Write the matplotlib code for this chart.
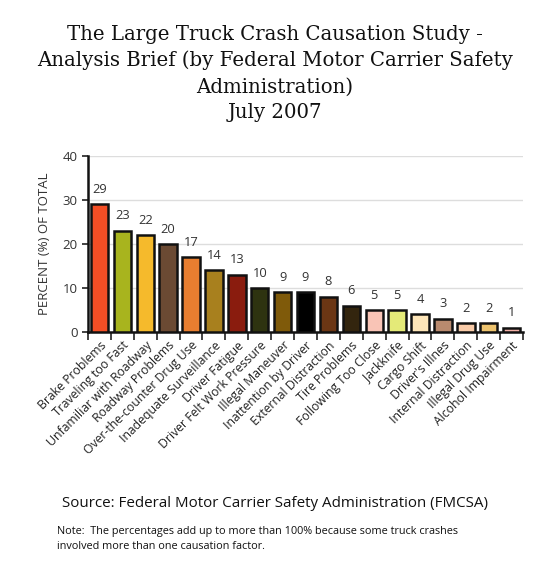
import numpy as np
import matplotlib.pyplot as plt
from matplotlib.ticker import FixedLocator

# ========= DATA =========
causes = [
    "Brake Problems", "Traveling too Fast", "Unfamiliar with Roadway",
    "Roadway Problems", "Over-the-counter Drug Use", "Inadequate Surveillance",
    "Driver Fatigue", "Driver Felt Work Pressure", "Illegal Maneuver",
    "Inattention by Driver", "External Distraction", "Tire Problems",
    "Following Too Close", "Jackknife", "Cargo Shift", "Driver's Illnes",
    "Internal Distraction", "Illegal Drug Use", "Alcohol Impairment",
]
percents = [29, 23, 22, 20, 17, 14, 13, 10, 9, 9, 8, 6, 5, 5, 4, 3, 2, 2, 1]
colors = [
    "#F44E25", "#A8B41E", "#F5BA2C", "#6B4A33", "#E87E30", "#A8801E",
    "#8A1C0E", "#2E3310", "#7F5A0A", "#000000", "#6B3614", "#33250E",
    "#F9C4B6", "#E4EA78", "#FDE5B8", "#B98A6E", "#F9CBA8", "#EDC36E",
    "#F2B0A6",
]

TITLE = ("The Large Truck Crash Causation Study -\n"
         "Analysis Brief (by Federal Motor Carrier Safety\n"
         "Administration)\nJuly 2007")

plt.rcParams['font.family'] = ['Open Sans', 'DejaVu Sans']

fig = plt.figure(figsize=(5.5, 5.86), dpi=100)
ax = fig.add_axes([0.16, 0.4334, 0.791, 0.3004])

x = np.arange(len(causes))
ax.bar(x, percents, width=0.76, color=colors, edgecolor="#111111", linewidth=1.8, zorder=3)

for xi, v in zip(x, percents):
    ax.annotate(str(v), (xi, v), xytext=(0, 6), textcoords="offset points",
                ha="center", va="bottom", fontsize=9.3, color="#333333")

ax.set_xlim(-0.5, len(causes) - 0.5)
ax.set_ylim(0, 40)
ax.set_yticks([0, 10, 20, 30, 40])
ax.yaxis.grid(True, color="#dddddd", linewidth=1, zorder=0)
ax.set_axisbelow(True)

ax.set_xticks(x)
ax.set_xticklabels(causes, rotation=45, ha="right", rotation_mode="anchor", fontsize=8.8, color="#222222")
ax.tick_params(axis="x", which="major", length=0, pad=5)
ax.xaxis.set_minor_locator(FixedLocator(np.arange(-0.5, len(causes), 1)))
ax.tick_params(axis="x", which="minor", length=6, width=1.2, color="#222222")
ax.tick_params(axis="y", length=4, width=1.2, color="#222222", labelsize=9.5, labelcolor="#333333")

for side in ["top", "right"]:
    ax.spines[side].set_visible(False)
ax.spines["left"].set_linewidth(1.8)
ax.spines["bottom"].set_linewidth(1.8)
ax.spines["left"].set_color("#111111")
ax.spines["bottom"].set_color("#111111")

ax.set_ylabel("PERCENT (%) OF TOTAL", fontsize=9.5, color="#333333", labelpad=8)

fig.text(0.5, 0.958, TITLE, ha="center", va="top", fontsize=14.2, family=["DejaVu Serif"],
         linespacing=1.46, color="#111111")

fig.text(0.5, 0.1416, "Source: Federal Motor Carrier Safety Administration (FMCSA)",
         ha="center", va="center", fontsize=10.9, color="#111111")
fig.text(0.104, 0.080, "Note:  The percentages add up to more than 100% because some truck crashes\n"
         "involved more than one causation factor.",
         ha="left", va="center", fontsize=7.8, color="#111111", linespacing=1.5)

fig.savefig("out.png", dpi=100)
